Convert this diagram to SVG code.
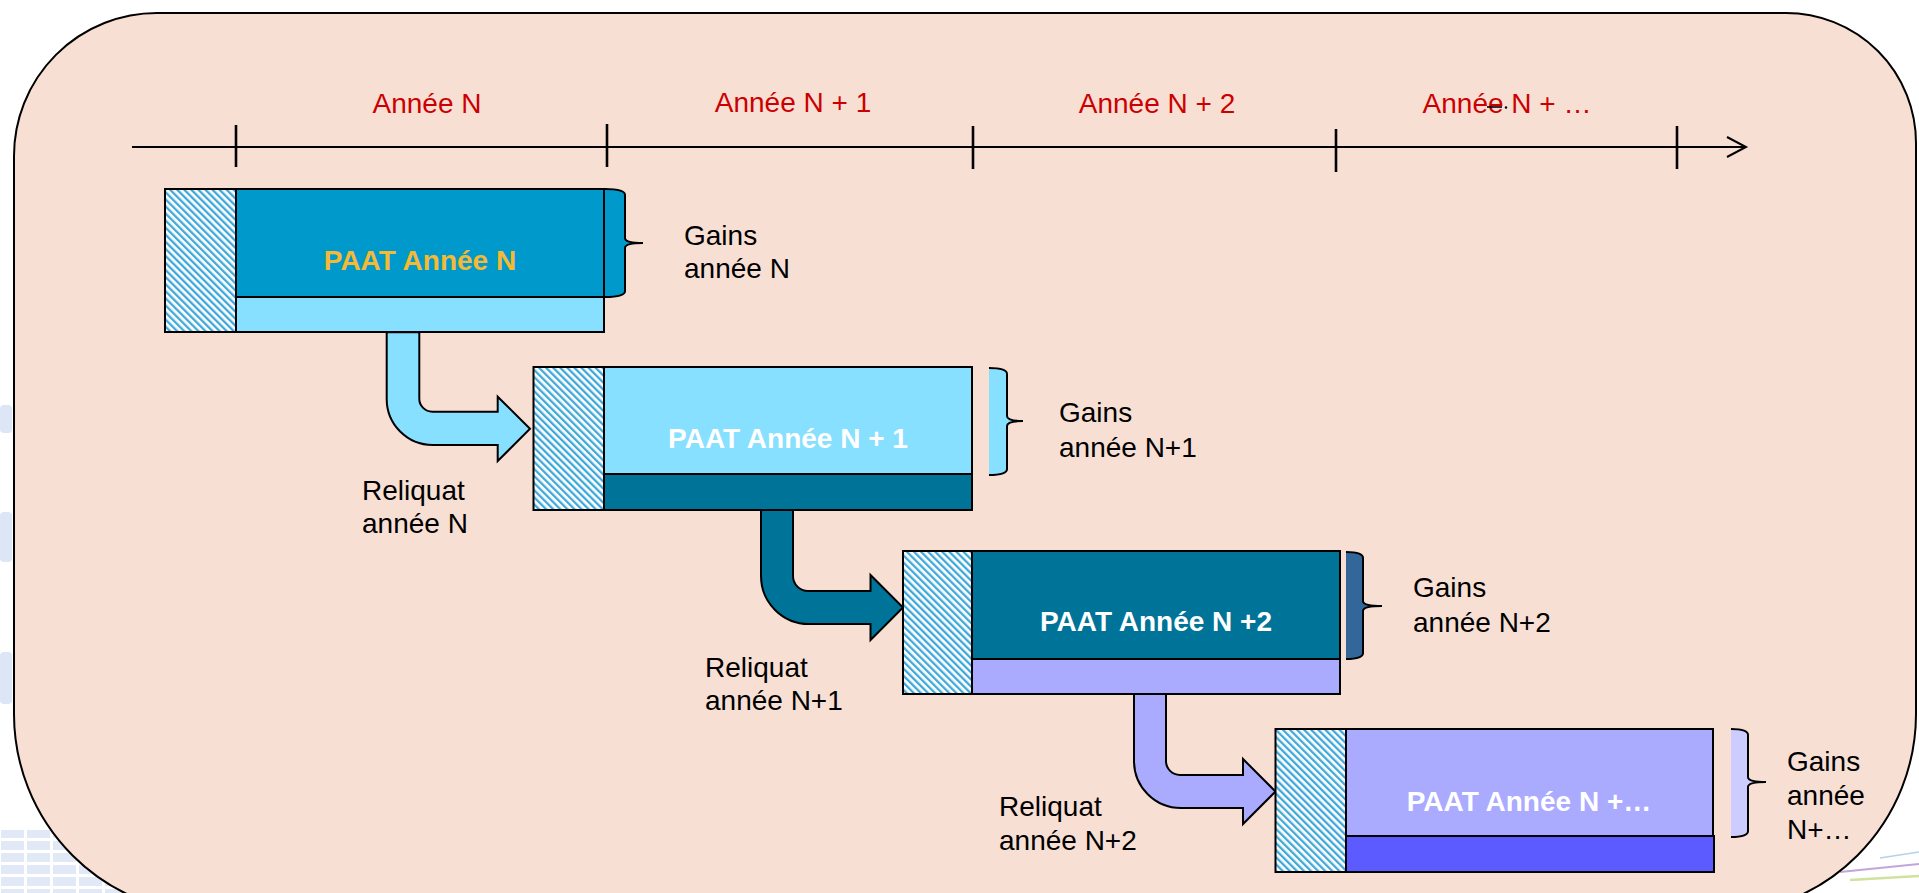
<svg xmlns="http://www.w3.org/2000/svg" width="1919" height="893" viewBox="0 0 1919 893">
  <defs>
    <style>
      .lbl { font-family: "Liberation Sans", Arial, sans-serif; font-size: 28px; fill: #000; }
      .yr { fill: #CC0000; text-anchor: middle; }
      .ttl { font-weight: bold; text-anchor: middle; fill: #FFFFFF; }
      .edge { stroke: #000; stroke-width: 2; }
      .ln { stroke: #000; stroke-width: 2; fill: none; }
      .tick { stroke: #000; stroke-width: 2.6; }
      .hatch { fill: url(#diag); stroke: #000; stroke-width: 2; }
    </style>
    <!-- diagonal light-blue hatching for the carried-over part of each year -->
    <pattern id="diag" patternUnits="userSpaceOnUse" width="5" height="5" patternTransform="rotate(-45)">
      <rect width="5" height="5" fill="#FFFFFF"/>
      <rect width="2.3" height="5" fill="#3FA8DA"/>
    </pattern>
    <pattern id="tiles" patternUnits="userSpaceOnUse" width="26" height="12">
      <rect width="26" height="12" fill="#FFFFFF"/>
      <rect x="1" y="1" width="23" height="9" fill="#E1E9F7"/>
    </pattern>
  </defs>

  <!-- faint slide backdrop peeking out around the panel -->
  <g id="backdrop">
    <rect x="0" y="0" width="1919" height="893" fill="#FFFFFF"/>
    <rect x="0" y="405" width="12" height="28" rx="4" fill="#DCE6F6"/>
    <rect x="0" y="512" width="12" height="50" rx="4" fill="#DCE6F6"/>
    <rect x="0" y="652" width="12" height="52" rx="4" fill="#DCE6F6"/>
    <rect x="0" y="830" width="160" height="63" fill="url(#tiles)"/>
    <path d="M1840,872 L1919,864" stroke="#C4A5DA" stroke-width="2" fill="none"/>
    <path d="M1850,880 L1919,876" stroke="#D0E29E" stroke-width="2.5" fill="none"/>
    <path d="M1880,858 L1919,852" stroke="#B3D2EE" stroke-width="1.5" fill="none"/>
  </g>

  <!-- rounded panel -->
  <path id="panel" d="M157,13 L1786,13 A130,130 0 0 1 1916,143 L1916,714 A200,200 0 0 1 1716,914 L214,914 A200,200 0 0 1 14,714 L14,156 A143,143 0 0 1 157,13 Z" fill="#F8DFD4" stroke="#000" stroke-width="2"/>

  <!-- time axis -->
  <g id="axis">
    <line class="ln" x1="132" y1="147" x2="1745" y2="147"/>
    <path class="ln" d="M1727,137 L1746,147 L1727,157"/>
    <line class="tick" x1="236" y1="125" x2="236" y2="167"/>
    <line class="tick" x1="607" y1="124" x2="607" y2="167"/>
    <line class="tick" x1="973" y1="126" x2="973" y2="169"/>
    <line class="tick" x1="1336" y1="129" x2="1336" y2="172"/>
    <line class="tick" x1="1677" y1="126" x2="1677" y2="169"/>
    <text class="lbl yr" x="427" y="113">Année N</text>
    <text class="lbl yr" x="793" y="112">Année N + 1</text>
    <text class="lbl yr" x="1157" y="113">Année N + 2</text>
    <text class="lbl yr" x="1507" y="113">Année N + …</text>
    <line x1="1487" y1="107" x2="1502" y2="107" stroke="#000" stroke-width="1.6"/>
    <circle cx="1506" cy="107.5" r="1.2" fill="#000"/>
  </g>

  <!-- carry-over arrows -->
  <g id="connectors">
    <path class="edge" fill="#87E0FF" d="M386.7,332.3 L419.3,332.3 L419.3,398.7 A13,13 0 0 0 432.3,411.7 L497.7,411.7 L497.7,396.7 L530,428.8 L497.7,461 L497.7,445 L432.7,445 A46,46 0 0 1 386.7,399 Z"/>
    <path class="edge" fill="#007399" d="M761,510 L793,510 L793,576 A15,15 0 0 0 808,591 L870.5,591 L870.5,575 L903,607.5 L870.5,640 L870.5,624 L809,624 A48,48 0 0 1 761,576 Z"/>
    <path class="edge" fill="#AAAAFF" d="M1134,694 L1166,694 L1166,761 A14,14 0 0 0 1180,775 L1243,775 L1243,759 L1275.5,791.5 L1243,824 L1243,808 L1181,808 A47,47 0 0 1 1134,761 Z"/>
    <text class="lbl"><tspan x="362" y="500">Reliquat</tspan><tspan x="362" y="533">année N</tspan></text>
    <text class="lbl"><tspan x="705" y="677">Reliquat</tspan><tspan x="705" y="710">année N+1</tspan></text>
    <text class="lbl"><tspan x="999" y="816">Reliquat</tspan><tspan x="999" y="850">année N+2</tspan></text>
  </g>

  <!-- year N -->
  <g id="paat-n">
    <rect class="hatch" x="165" y="189" width="71" height="143"/>
    <rect class="edge" x="236" y="189" width="368" height="108" fill="#0099CC"/>
    <rect class="edge" x="236" y="297" width="368" height="35" fill="#87E0FF"/>
    <text class="lbl ttl" x="420" y="270" style="fill:#F5B935">PAAT Année N</text>
    <path d="M605,189 Q625,189 625,195 L625,238 Q625,243 643,243 Q625,243 625,248 L625,291 Q625,297 605,297 Z" fill="#0099CC"/>
    <path class="ln" d="M605,189 Q625,189 625,195 L625,238 Q625,243 643,243 Q625,243 625,248 L625,291 Q625,297 605,297"/>
    <text class="lbl"><tspan x="684" y="245">Gains</tspan><tspan x="684" y="278">année N</tspan></text>
  </g>

  <!-- year N + 1 -->
  <g id="paat-n1">
    <rect class="hatch" x="533.5" y="367" width="70.5" height="143"/>
    <rect class="edge" x="604" y="367" width="368" height="107" fill="#87E0FF"/>
    <rect class="edge" x="604" y="474" width="368" height="36" fill="#007399"/>
    <text class="lbl ttl" x="788" y="448">PAAT Année N + 1</text>
    <path d="M989,368 Q1007,368 1007,374 L1007,416 Q1007,421 1023,421 Q1007,421 1007,426 L1007,469 Q1007,475 989,475 Z" fill="#87E0FF"/>
    <path class="ln" d="M989,368 Q1007,368 1007,374 L1007,416 Q1007,421 1023,421 Q1007,421 1007,426 L1007,469 Q1007,475 989,475"/>
    <text class="lbl"><tspan x="1059" y="422">Gains</tspan><tspan x="1059" y="457">année N+1</tspan></text>
  </g>

  <!-- year N + 2 -->
  <g id="paat-n2">
    <rect class="hatch" x="903" y="551" width="69" height="143"/>
    <rect class="edge" x="972" y="551" width="368" height="108" fill="#007399"/>
    <rect class="edge" x="972" y="659" width="368" height="35" fill="#AAAAFF"/>
    <text class="lbl ttl" x="1156" y="631">PAAT Année N +2</text>
    <path d="M1346,552 Q1363,552 1363,558 L1363,601 Q1363,606 1382,606 Q1363,606 1363,611 L1363,653 Q1363,659 1346,659 Z" fill="#336699"/>
    <path class="ln" d="M1346,552 Q1363,552 1363,558 L1363,601 Q1363,606 1382,606 Q1363,606 1363,611 L1363,653 Q1363,659 1346,659"/>
    <text class="lbl"><tspan x="1413" y="597">Gains</tspan><tspan x="1413" y="632">année N+2</tspan></text>
  </g>

  <!-- year N + ... -->
  <g id="paat-nx">
    <rect class="hatch" x="1275.5" y="729" width="70.5" height="143"/>
    <rect class="edge" x="1346" y="729" width="367" height="107" fill="#AAAAFF"/>
    <rect class="edge" x="1346" y="836" width="368" height="36" fill="#5B5BFF"/>
    <text class="lbl ttl" x="1529" y="811">PAAT Année N +…</text>
    <path d="M1731,729 Q1748,729 1748,735 L1748,777 Q1748,782 1766,782 Q1748,782 1748,787 L1748,831 Q1748,837 1731,837 Z" fill="#CCCCFF"/>
    <path class="ln" d="M1731,729 Q1748,729 1748,735 L1748,777 Q1748,782 1766,782 Q1748,782 1748,787 L1748,831 Q1748,837 1731,837"/>
    <text class="lbl"><tspan x="1787" y="771">Gains</tspan><tspan x="1787" y="805">année</tspan><tspan x="1787" y="839">N+…</tspan></text>
  </g>
</svg>
